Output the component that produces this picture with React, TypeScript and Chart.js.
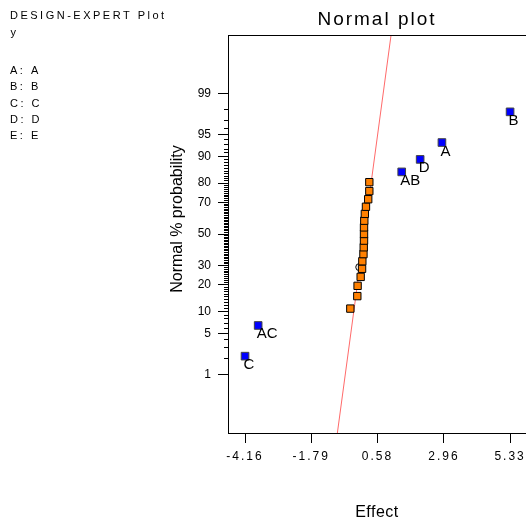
import { useEffect, useRef } from 'react';
import { Chart, registerables } from 'chart.js';

Chart.register(...registerables);

const FONT = "'Liberation Sans', Arial, sans-serif";
Chart.defaults.font.family = FONT;
Chart.defaults.color = '#000';

// ---- text ----
const chartTitle = 'Normal plot';
const xAxisTitle = 'Effect';
const yAxisTitle = 'Normal % probability';
const headerLines = ['DESIGN-EXPERT Plot', 'y'];
const factorLines = ['A: A', 'B: B', 'C: C', 'D: D', 'E: E'];

// ---- axes ----
const xAxisMin = -4.77;
const xAxisMax = 5.9;
const xTickValues = [-4.16, -1.79, 0.58, 2.96, 5.33];
const xTickLabels = ['-4.16', '-1.79', '0.58', '2.96', '5.33'];
const yAxisMinProb = 0.05;
const yAxisMaxProb = 99.95;
const yTickProbs = [1, 5, 10, 20, 30, 50, 70, 80, 90, 95, 99];
const yTickLabels = ['1', '5', '10', '20', '30', '50', '70', '80', '90', '95', '99'];

// ---- data ----
const errorEffects = [-0.39, -0.14, -0.13, -0.02, 0.03, 0.04, 0.08, 0.09, 0.1, 0.1, 0.1, 0.11, 0.13, 0.17, 0.25, 0.29, 0.29];
const errorProbs = [10.87, 15.22, 19.57, 23.91, 28.26, 32.61, 36.96, 41.3, 45.65, 50.0, 54.35, 58.7, 63.04, 67.39, 71.74, 76.09, 80.43];
const termLabels = ['C', 'AC', 'AB', 'D', 'A', 'B'];
const termEffects = [-4.16, -3.69, 1.45, 2.11, 2.89, 5.33];
const termProbs = [2.17, 6.52, 84.78, 89.13, 93.48, 97.83];
const fitLineEffects = [-0.854, 1.069];
const fitLineProbs = [0.05, 99.95];
const markerEffects = [-0.07];
const markerProbs = [29.2];

// inverse standard normal CDF (Acklam) – probability axis transform
function probit(p: number): number {
  const a = [-39.69683028665376, 220.9460984245205, -275.9285104469687, 138.357751867269, -30.66479806614716, 2.506628277459239];
  const b = [-54.47609879822406, 161.5858368580409, -155.6989798598866, 66.80131188771972, -13.28068155288572];
  const c = [-0.007784894002430293, -0.3223964580411365, -2.400758277161838, -2.549732539343734, 4.374664141464968, 2.938163982698783];
  const d = [0.007784695709041462, 0.3224671290700398, 2.445134137142996, 3.754408661907416];
  const pl = 0.02425;
  if (p < pl) {
    const q = Math.sqrt(-2 * Math.log(p));
    return (((((c[0] * q + c[1]) * q + c[2]) * q + c[3]) * q + c[4]) * q + c[5]) / ((((d[0] * q + d[1]) * q + d[2]) * q + d[3]) * q + 1);
  }
  if (p <= 1 - pl) {
    const q = p - 0.5;
    const r = q * q;
    return ((((((a[0] * r + a[1]) * r + a[2]) * r + a[3]) * r + a[4]) * r + a[5]) * q) / (((((b[0] * r + b[1]) * r + b[2]) * r + b[3]) * r + b[4]) * r + 1);
  }
  const q = Math.sqrt(-2 * Math.log(1 - p));
  return -(((((c[0] * q + c[1]) * q + c[2]) * q + c[3]) * q + c[4]) * q + c[5]) / ((((d[0] * q + d[1]) * q + d[2]) * q + d[3]) * q + 1);
}
const pz = (pct: number) => probit(pct / 100);

const decorPlugin = {
  id: 'decor',
  beforeDraw(chart: any) {
    // title and x tick labels are letter-spaced
    chart.ctx.letterSpacing = '2px';
  },
  afterDatasetsDraw(chart: any) {
    const ctx = chart.ctx;
    const meta = chart.getDatasetMeta(3);
    ctx.save();
    ctx.letterSpacing = '0px';
    ctx.font = `15px ${FONT}`;
    ctx.fillStyle = '#000';
    ctx.textAlign = 'left';
    ctx.textBaseline = 'alphabetic';
    meta.data.forEach((el: any, i: number) => {
      ctx.fillText(termLabels[i], el.x - 1.5, el.y + 13);
    });
    ctx.restore();
    // y tick labels (drawn after datasets) use normal spacing
    ctx.letterSpacing = '0px';
  },
  afterDraw(chart: any) {
    const { ctx, chartArea, scales } = chart;
    ctx.save();
    ctx.strokeStyle = '#000';
    ctx.lineWidth = 1;
    // top frame line
    ctx.beginPath();
    ctx.moveTo(chartArea.left, Math.round(chartArea.top - 0.5) + 0.5);
    ctx.lineTo(chartArea.right, Math.round(chartArea.top - 0.5) + 0.5);
    ctx.stroke();
    // minor probability ticks (every whole percent)
    ctx.beginPath();
    for (let p = 1; p <= 99; p++) {
      const y = Math.round(scales.y.getPixelForValue(pz(p)) - 0.5) + 0.5;
      ctx.moveTo(chartArea.left - 4, y);
      ctx.lineTo(chartArea.left, y);
    }
    ctx.stroke();
    // axis titles
    ctx.fillStyle = '#000';
    ctx.font = `16px ${FONT}`;
    ctx.letterSpacing = '0.5px';
    ctx.textAlign = 'center';
    ctx.textBaseline = 'alphabetic';
    ctx.fillText(xAxisTitle, (chartArea.left + chartArea.right) / 2, 516.5);
    ctx.save();
    ctx.translate(178, 219);
    ctx.rotate(-Math.PI / 2);
    ctx.textBaseline = 'middle';
    ctx.letterSpacing = '0px';
    ctx.fillText(yAxisTitle, 0, 0);
    ctx.restore();
    // header notes
    ctx.font = `11px ${FONT}`;
    ctx.letterSpacing = '2.5px';
    ctx.textAlign = 'left';
    ctx.textBaseline = 'alphabetic';
    ctx.fillText(headerLines[0], 10, 19);
    ctx.fillText(headerLines[1], 10.5, 35.5);
    factorLines.forEach((t, i) => ctx.fillText(t, 10, 74 + i * 16.25));
    ctx.restore();
  },
};

export default function App() {
  const ref = useRef<HTMLCanvasElement>(null);
  useEffect(() => {
    const canvas = ref.current;
    if (!canvas) return;
    const chart = new Chart(canvas, {
      type: 'scatter',
      data: {
        datasets: [
          {
            type: 'line',
            data: fitLineEffects.map((x, i) => ({ x, y: pz(fitLineProbs[i]) })),
            borderColor: '#ff6a6a',
            borderWidth: 1,
            pointRadius: 0,
            order: 4,
          } as any,
          {
            data: markerEffects.map((x, i) => ({ x, y: pz(markerProbs[i]) })),
            pointStyle: 'circle',
            pointRadius: 3.5,
            backgroundColor: 'rgba(0,0,0,0)',
            borderColor: '#000',
            borderWidth: 1,
            order: 3,
          },
          {
            data: errorEffects.map((x, i) => ({ x, y: pz(errorProbs[i]) })),
            pointStyle: 'rect',
            pointRadius: 5.2,
            backgroundColor: '#ff8000',
            borderColor: '#000',
            borderWidth: 1,
            order: 2,
          },
          {
            data: termEffects.map((x, i) => ({ x, y: pz(termProbs[i]) })),
            pointStyle: 'rect',
            pointRadius: 5.4,
            backgroundColor: '#0000ff',
            borderColor: '#444',
            borderWidth: 1,
            order: 1,
          },
        ],
      },
      options: {
        animation: false,
        responsive: false,
        events: [],
        layout: { padding: 0, autoPadding: false },
        plugins: {
          legend: { display: false },
          tooltip: { enabled: false },
          title: {
            display: true,
            text: chartTitle,
            fullSize: false,
            color: '#000',
            font: { size: 19, weight: 'normal' },
            padding: { top: 8.6, bottom: 3.6 },
          },
        },
        scales: {
          x: {
            type: 'linear',
            position: 'bottom',
            min: xAxisMin,
            max: xAxisMax,
            afterBuildTicks: (s: any) => {
              s.ticks = xTickValues.map((v) => ({ value: v }));
            },
            afterFit: (s: any) => {
              s.height = 87;
              s.paddingLeft = 0;
              s.paddingRight = 0;
            },
            ticks: {
              autoSkip: false,
              maxRotation: 0,
              padding: 6,
              color: '#000',
              font: { size: 12 },
              callback: (_v: any, i: number) => xTickLabels[i],
            },
            grid: { drawOnChartArea: false, drawTicks: true, tickLength: 10, color: '#000', lineWidth: 1 },
            border: { display: true, color: '#000', width: 1 },
          },
          y: {
            type: 'linear',
            position: 'left',
            min: pz(yAxisMinProb),
            max: pz(yAxisMaxProb),
            afterBuildTicks: (s: any) => {
              s.ticks = yTickProbs.map((p) => ({ value: pz(p) }));
            },
            afterFit: (s: any) => {
              s.width = 228;
              s.paddingTop = 0;
              s.paddingBottom = 0;
            },
            ticks: {
              z: 1,
              autoSkip: false,
              padding: 7,
              color: '#000',
              font: { size: 12 },
              callback: (_v: any, i: number) => yTickLabels[i],
            },
            grid: { drawOnChartArea: false, drawTicks: true, tickLength: 10, color: '#000', lineWidth: 1 },
            border: { display: true, color: '#000', width: 1 },
          },
        },
      } as any,
      plugins: [decorPlugin],
    });
    return () => chart.destroy();
  }, []);
  return (
    <div style={{ position: 'fixed', left: 0, top: 0, width: 526, height: 520, background: '#fff', overflow: 'hidden' }}>
      <canvas ref={ref} width={526} height={520} style={{ display: 'block' }} />
    </div>
  );
}
